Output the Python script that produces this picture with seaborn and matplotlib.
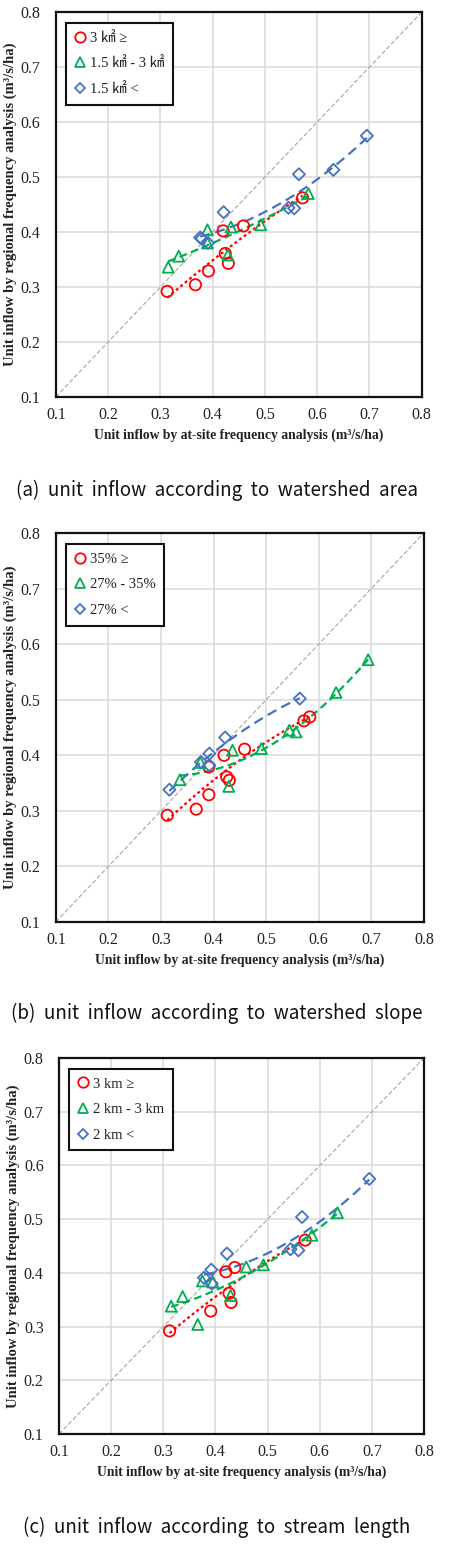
import matplotlib
matplotlib.use('Agg')
import matplotlib.pyplot as plt
import seaborn as sns
from matplotlib.lines import Line2D

# (a) grouped by watershed area
a_red_x = [0.313, 0.367, 0.392, 0.420, 0.424, 0.430, 0.459, 0.572]
a_red_y = [0.292, 0.304, 0.329, 0.402, 0.361, 0.343, 0.411, 0.462]
a_green_x = [0.315, 0.335, 0.390, 0.390, 0.429, 0.435, 0.492, 0.583]
a_green_y = [0.336, 0.356, 0.404, 0.380, 0.358, 0.409, 0.413, 0.470]
a_blue_x = [0.376, 0.379, 0.391, 0.421, 0.545, 0.556, 0.565, 0.631, 0.695]
a_blue_y = [0.390, 0.388, 0.380, 0.436, 0.444, 0.443, 0.505, 0.513, 0.575]
a_labels = ['3 ㎢ ≥', '1.5 ㎢ - 3 ㎢', '1.5 ㎢ <']

# (b) grouped by watershed slope
b_red_x = [0.312, 0.367, 0.391, 0.391, 0.420, 0.425, 0.430, 0.459, 0.572, 0.583]
b_red_y = [0.292, 0.303, 0.329, 0.379, 0.400, 0.361, 0.355, 0.411, 0.462, 0.469]
b_green_x = [0.336, 0.375, 0.429, 0.436, 0.491, 0.544, 0.557, 0.633, 0.694]
b_green_y = [0.356, 0.387, 0.344, 0.409, 0.412, 0.445, 0.442, 0.513, 0.572]
b_blue_x = [0.316, 0.376, 0.392, 0.392, 0.422, 0.564]
b_blue_y = [0.338, 0.388, 0.403, 0.382, 0.432, 0.502]
b_labels = ['35% ≥', '27% - 35%', '27% <']

# (c) grouped by stream length
c_red_x = [0.312, 0.391, 0.420, 0.426, 0.430, 0.437, 0.572]
c_red_y = [0.292, 0.329, 0.402, 0.362, 0.345, 0.410, 0.461]
c_green_x = [0.315, 0.337, 0.366, 0.375, 0.395, 0.429, 0.459, 0.492, 0.585, 0.634]
c_green_y = [0.338, 0.356, 0.304, 0.385, 0.383, 0.358, 0.411, 0.415, 0.470, 0.512]
c_blue_x = [0.378, 0.392, 0.393, 0.422, 0.544, 0.559, 0.566, 0.695]
c_blue_y = [0.391, 0.406, 0.380, 0.436, 0.444, 0.442, 0.504, 0.575]
c_labels = ['3 km ≥', '2 km - 3 km', '2 km <']

captions = ['(a)  unit  inflow  according  to  watershed  area',
            '(b)  unit  inflow  according  to  watershed  slope',
            '(c)  unit  inflow  according  to  stream  length']
ticks = [0.1, 0.2, 0.3, 0.4, 0.5, 0.6, 0.7, 0.8]

sns.set_style('white')
plt.rcParams['font.family'] = ['Liberation Serif', 'Noto Sans CJK KR', 'DejaVu Sans']

RED, GREEN, BLUE = '#ff0000', '#00b050', '#4472c4'
styles = [
    dict(color=RED, marker='o', s=66, ms=7.5, dashes=(1.3, 1.3)),
    dict(color=GREEN, marker='^', s=62, ms=7.5, dashes=(3.5, 2.0)),
    dict(color=BLUE, marker='D', s=38, ms=5.5, dashes=(4.5, 2.5)),
]

fig = plt.figure(figsize=(4.54, 15.64), dpi=100)

boxes = [
    [0.123, 0.7462, 0.806, 0.2461],
    [0.123, 0.4105, 0.8106, 0.2487],
    [0.130, 0.0831, 0.804, 0.2404],
]
caption_y = [1 - 490 / 1564, 1 - 1013 / 1564, 1 - 1527 / 1564]

panels = [
    ([(a_red_x, a_red_y), (a_green_x, a_green_y), (a_blue_x, a_blue_y)], a_labels),
    ([(b_red_x, b_red_y), (b_green_x, b_green_y), (b_blue_x, b_blue_y)], b_labels),
    ([(c_red_x, c_red_y), (c_green_x, c_green_y), (c_blue_x, c_blue_y)], c_labels),
]

for k, (groups, labels) in enumerate(panels):
    ax = fig.add_axes(boxes[k])
    ax.set_xlim(0.1, 0.8)
    ax.set_ylim(0.1, 0.8)
    ax.set_xticks(ticks)
    ax.set_yticks(ticks)
    ax.set_xticklabels([f'{t:.1f}' for t in ticks])
    ax.set_yticklabels([f'{t:.1f}' for t in ticks])
    ax.grid(True, color='#d9d9d9', lw=1.1)
    ax.set_axisbelow(True)
    ax.tick_params(length=0, labelsize=11.5, colors='#222222')
    ax.tick_params(axis='x', pad=7)
    ax.tick_params(axis='y', pad=11)
    for sp in ax.spines.values():
        sp.set_color('#111111')
        sp.set_linewidth(1.6)

    # 1:1 line
    ax.axline((0.1, 0.1), slope=1, color='#a6a6a6', lw=0.8, dashes=(4, 2), zorder=1)

    handles = []
    for (x, y), st, lab in zip(groups, styles, labels):
        sns.regplot(x=x, y=y, order=2, ci=None, scatter=False, truncate=True, ax=ax,
                    line_kws=dict(color=st['color'], lw=1.6, dashes=st['dashes'], zorder=2))
        sns.scatterplot(x=x, y=y, ax=ax, marker=st['marker'], s=st['s'],
                        facecolor='none', edgecolor=st['color'], linewidth=1.3, zorder=3)
        handles.append(Line2D([], [], ls='none', marker=st['marker'], mfc='none',
                              mec=st['color'], mew=1.3, ms=st['ms'], label=lab))

    ax.set_xlim(0.1, 0.8)
    ax.set_ylim(0.1, 0.8)
    leg = ax.legend(handles=handles, loc='upper left', bbox_to_anchor=(0.027, 0.972),
                    fontsize=10.5, frameon=True, fancybox=False, framealpha=1,
                    edgecolor='#111111', handlelength=0.8, handletextpad=0.25,
                    labelspacing=0.85, borderpad=0.6, borderaxespad=0)
    leg.get_frame().set_linewidth(1.5)
    for t in leg.get_texts():
        t.set_color('#222222')

    ax.set_xlabel('Unit inflow by at-site frequency analysis (m³/s/ha)',
                  fontsize=9.8, fontweight='bold', labelpad=4, color='#222222')
    ax.set_ylabel('Unit inflow by regional frequency analysis (m³/s/ha)',
                  fontsize=10.5, fontweight='bold', labelpad=3, color='#222222')

    fig.text(0.478, caption_y[k], captions[k], ha='center', va='center',
             fontsize=13.5, family=['Noto Sans CJK KR', 'DejaVu Sans'], color='#111111')

fig.savefig('out.png', dpi=100)
